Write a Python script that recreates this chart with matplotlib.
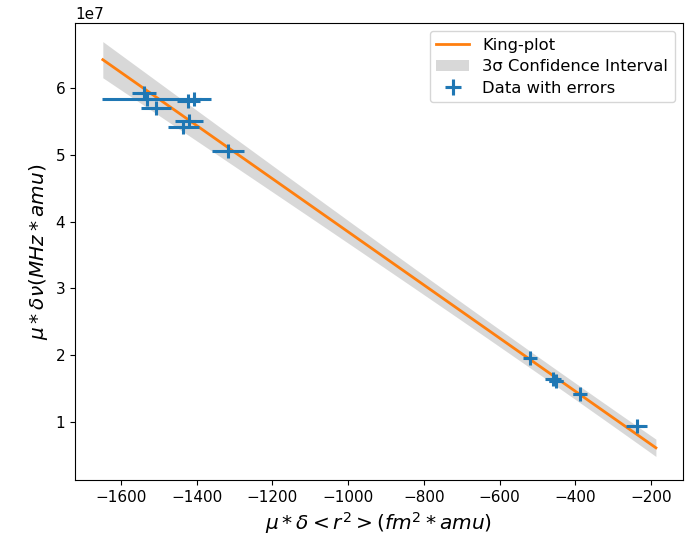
import numpy as np
import matplotlib.pyplot as plt

plt.rcParams['font.size'] = 11

# measured points (x: mu*d<r^2>, y: mu*dnu)
x_data = [-1539, -1532, -1508, -1422, -1407, -1435, -1420, -1317,
          -520, -458, -451, -388, -238]
y_data = [5.92e7, 5.83e7, 5.70e7, 5.81e7, 5.83e7, 5.41e7, 5.51e7, 5.06e7,
          1.953e7, 1.64e7, 1.62e7, 1.415e7, 0.94e7]
x_err = [31, 117, 40, 31, 44, 42, 37, 42, 12, 21, 18, 17, 28]
y_err = [0.05e7, 0.04e7, 0.05e7, 0.04e7, 0.05e7, 0.06e7, 0.06e7, 0.05e7,
         0.03e7, 0.03e7, 0.03e7, 0.03e7, 0.03e7]

# fit parameters (y = k*x + b)
k_fit = -39770.0
b_fit = -0.130e7
x_fit_min, x_fit_max = -1648, -187
# uncertainty of the fit, expressed around x0
x0 = -400.0
sigma0 = 0.041e7
sigma_k = 645.0

x_line = np.linspace(x_fit_min, x_fit_max, 300)
y_line = k_fit * x_line + b_fit
sigma_line = np.sqrt(sigma0 ** 2 + (sigma_k * (x_line - x0)) ** 2)

fig = plt.figure(figsize=(6.88, 5.39), dpi=100)
ax = fig.add_axes([0.109, 0.1095, 0.8837, 0.8478])

ax.plot(x_line, y_line, color='tab:orange', linewidth=2, label='King-plot')
ax.fill_between(x_line, y_line - 3 * sigma_line, y_line + 3 * sigma_line,
                color='gray', alpha=0.3, linewidth=0, label='3σ Confidence Interval')
ax.errorbar(x_data, y_data, xerr=x_err, yerr=y_err, fmt='+', color='tab:blue',
            markersize=10, markeredgewidth=2.2, elinewidth=2.2,
            label='Data with errors')

ax.set_xlim(-1721.5, -115.5)
ax.set_ylim(0.132e7, 6.973e7)
ax.set_xlabel(r'$\mu * \delta < r^2 > (fm^2 * amu)$', fontsize=14.5)
ax.set_ylabel(r'$\mu * \delta\nu (MHz * amu)$', fontsize=14.5)
ax.legend(loc='upper right', fontsize=11.8, labelspacing=0.4)

plt.savefig('out.png')
